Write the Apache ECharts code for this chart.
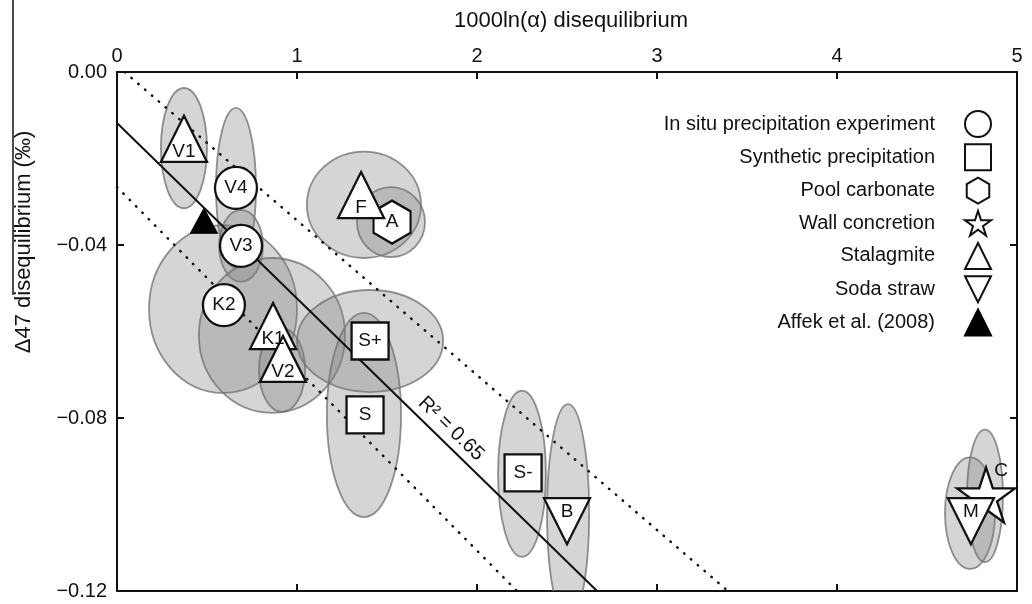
<!DOCTYPE html>
<html><head><meta charset="utf-8">
<script src="https://cdn.jsdelivr.net/npm/echarts@6/dist/echarts.min.js"></script>
<style>html,body{margin:0;padding:0;background:#fff}#c{width:1032px;height:604px}</style>
</head><body><div id="c"></div>
<script>
// ---- data ----
const xTicks = [0, 1, 2, 3, 4, 5];
const yTicks = [0, -0.04, -0.08, -0.12];
// samples: [label, 1000ln(alpha) diseq, D47 diseq]
const inSitu = [['V4', 0.661, -0.0268], ['V3', 0.689, -0.0402], ['K2', 0.594, -0.0539]];
const synthetic = [['S+', 1.406, -0.0622], ['S', 1.378, -0.0793], ['S-', 2.256, -0.0927]];
const pool = [['A', 1.528, -0.0347]];
const wall = [['C', 4.828, -0.0978]];
const stalagmite = [['V1', 0.372, -0.0173], ['F', 1.356, -0.0303], ['K1', 0.867, -0.0606], ['V2', 0.922, -0.0682]];
const sodaStraw = [['B', 2.5, -0.1020], ['M', 4.744, -0.1020]];
const affek = [[0.483, -0.0344]];
// error ellipses: [x centre, y centre, x half-axis, y half-axis]
const ellipses = [
  [0.372, -0.0176, 0.128, 0.0139],
  [0.661, -0.0268, 0.111, 0.0185],
  [0.689, -0.0402, 0.122, 0.0083],
  [0.589, -0.0548, 0.411, 0.0194],
  [1.372, -0.0307, 0.317, 0.0123],
  [1.522, -0.0347, 0.189, 0.0081],
  [0.861, -0.0609, 0.406, 0.0179],
  [0.917, -0.0689, 0.128, 0.0097],
  [1.406, -0.0622, 0.406, 0.0118],
  [1.372, -0.0793, 0.206, 0.0236],
  [2.250, -0.0929, 0.133, 0.0192],
  [2.506, -0.1020, 0.117, 0.0252],
  [4.739, -0.1020, 0.139, 0.0129],
  [4.822, -0.0980, 0.100, 0.0153]
];
const fitLine = [[0, -0.0118], [2.667, -0.12]];
const upperBand = [[0.042, 0], [3.394, -0.12]];
const lowerBand = [[0, -0.0266], [2.222, -0.12]];
const r2Label = [[1.856, -0.0825, 'R² = 0.65']];
const legendNames = ['In situ precipitation experiment', 'Synthetic precipitation', 'Pool carbonate',
  'Wall concretion', 'Stalagmite', 'Soda straw', 'Affek et al. (2008)'];

// ---- chart ----
const FONT = '"Liberation Sans", Arial, Helvetica, sans-serif';
const HEX = 'path://M0,-1 L0.866,-0.5 L0.866,0.5 L0,1 L-0.866,0.5 L-0.866,-0.5 Z';
const STAR = 'path://M0,-1 L0.2245,-0.309 L0.951,-0.309 L0.363,0.118 L0.588,0.809 L0,0.382 L-0.588,0.809 L-0.363,0.118 L-0.951,-0.309 L-0.2245,-0.309 Z';
const DOWN = 'path://M0,0 L2,0 L1,2 Z';
const chart = echarts.init(document.getElementById('c'), null, {renderer: 'canvas'});

const markerStyle = {color: '#fff', borderColor: '#111', borderWidth: 2.3, opacity: 1};
function toData(arr) { return arr.map(d => ({name: d[0], value: [d[1], d[2]]})); }
function markerSeries(name, arr, symbol, size, offset, labelOffset, extra) {
  return Object.assign({
    name: name, type: 'scatter', z: 5, data: toData(arr), symbol: symbol, symbolSize: size,
    symbolOffset: offset, itemStyle: markerStyle,
    label: {show: true, position: 'inside', formatter: '{b}', fontSize: 19, color: '#111',
      fontFamily: FONT, offset: labelOffset},
    emphasis: {disabled: true}, silent: true
  }, extra || {});
}
function bandSeries(data, dotted) {
  return {type: 'line', z: 3, data: data, showSymbol: false, silent: true, animation: false,
    lineStyle: dotted ? {color: '#111', width: 2.5, type: [0.5, 8.5], cap: 'round'} : {color: '#111', width: 2}};
}
const axisLine = {show: true, onZero: false, lineStyle: {color: '#111', width: 2}};
const axisTick = {show: true, inside: true, length: 7, lineStyle: {color: '#111', width: 2}};

chart.setOption({
  animation: false,
  textStyle: {fontFamily: FONT},
  grid: {left: 117, right: 15, top: 72, bottom: 13, containLabel: false},
  xAxis: [
    {type: 'value', position: 'top', min: xTicks[0], max: xTicks[xTicks.length - 1], interval: 1,
      axisLine: axisLine, axisTick: axisTick, splitLine: {show: false},
      axisLabel: {fontSize: 20, color: '#111', margin: 6, fontFamily: FONT},
      name: '1000ln(α) disequilibrium', nameLocation: 'middle', nameGap: 40,
      nameTextStyle: {fontSize: 22, color: '#111', fontFamily: FONT, padding: [0, 0, 0, 8]}},
    {type: 'value', position: 'bottom', min: xTicks[0], max: xTicks[xTicks.length - 1], interval: 1,
      axisLine: axisLine, axisTick: axisTick, splitLine: {show: false}, axisLabel: {show: false}}
  ],
  yAxis: [
    {type: 'value', position: 'left', min: yTicks[yTicks.length - 1], max: yTicks[0], interval: 0.04,
      axisLine: axisLine, axisTick: axisTick, splitLine: {show: false},
      axisLabel: {fontSize: 20, color: '#111', margin: 10, fontFamily: FONT,
        formatter: v => (Math.abs(v) < 1e-9 ? '0.00' : (v < 0 ? '\u2212' : '') + Math.abs(v).toFixed(2))}},
    {type: 'value', position: 'right', min: yTicks[yTicks.length - 1], max: yTicks[0], interval: 0.04,
      axisLine: axisLine, axisTick: axisTick, splitLine: {show: false}, axisLabel: {show: false}}
  ],
  legend: {
    data: legendNames, orient: 'vertical', align: 'right', right: 35, top: 105,
    itemWidth: 26, itemHeight: 26, itemGap: 5.3, selectedMode: false,
    textStyle: {fontSize: 20, color: '#111', fontFamily: FONT, padding: [0, 25, 0, 0]}
  },
  graphic: [
    {type: 'line', shape: {x1: 13, y1: 0, x2: 13, y2: 295}, style: {stroke: '#111', lineWidth: 1.5}, silent: true},
    {type: 'text', x: 24, y: 242, rotation: Math.PI / 2,
      style: {text: 'Δ47 disequilibrium (‰)', fontSize: 22, fill: '#111', font: '22px ' + FONT,
        textAlign: 'center', textVerticalAlign: 'middle'}, silent: true}
  ],
  series: [
    {type: 'custom', z: 1, silent: true, data: ellipses,
      renderItem: (params, api) => {
        const c = api.coord([api.value(0), api.value(1)]);
        const s = api.size([api.value(2), api.value(3)]);
        const cs = params.coordSys;
        return {type: 'ellipse', shape: {cx: c[0], cy: c[1], rx: s[0], ry: s[1]},
          style: {fill: 'rgba(125,125,125,0.32)', stroke: 'rgba(110,110,110,0.75)', lineWidth: 1.8},
          clipPath: {type: 'rect', shape: {x: cs.x, y: cs.y, width: cs.width, height: cs.height}}};
      }},
    bandSeries(fitLine, false),
    bandSeries(upperBand, true),
    bandSeries(lowerBand, true),
    {type: 'scatter', z: 4, silent: true, symbolSize: 0, itemStyle: {opacity: 1},
      data: r2Label.map(d => ({name: d[2], value: [d[0], d[1]]})),
      label: {show: true, position: 'inside', formatter: '{b}', rotate: -44, fontSize: 20, color: '#111', fontFamily: FONT}},
    markerSeries('In situ precipitation experiment', inSitu, 'circle', 42, [0, 0], [0, 0]),
    markerSeries('Synthetic precipitation', synthetic, 'rect', 37, [0, 0], [0, 0]),
    markerSeries('Pool carbonate', pool, HEX, [37, 43], [0, 0], [0, 0]),
    markerSeries('Wall concretion', wall, STAR, [58, 55], [0, 0], [15, -24]),
    markerSeries('Stalagmite', stalagmite, 'triangle', 46, [0, -8], [0, 13]),
    markerSeries('Soda straw', sodaStraw, DOWN, 46, [0, 8], [0, -9]),
    {name: 'Affek et al. (2008)', type: 'scatter', z: 5, silent: true, data: affek,
      symbol: 'triangle', symbolSize: [27, 25], itemStyle: {color: '#000', borderColor: '#000', borderWidth: 1, opacity: 1}}
  ]
});
</script></body></html>
